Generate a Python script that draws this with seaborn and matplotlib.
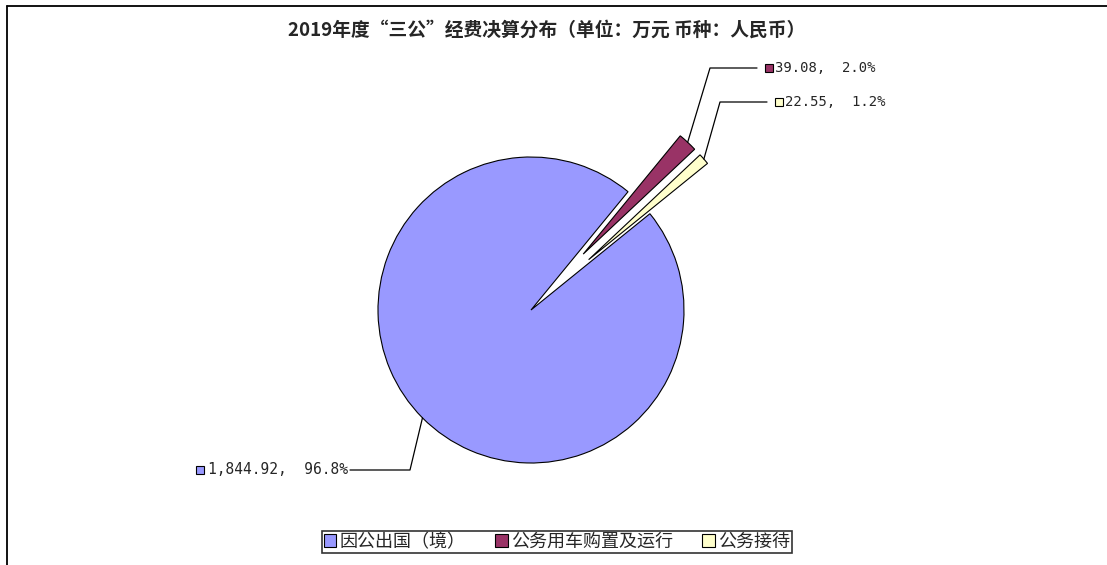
import numpy as np
import matplotlib.pyplot as plt
import matplotlib.patches as mpatches
import seaborn as sns

# data (万元)
categories = ["因公出国（境）", "公务用车购置及运行", "公务接待"]
values = [1844.92, 39.08, 22.55]
percent_labels = ["96.8%", "2.0%", "1.2%"]
value_labels = ["1,844.92", "39.08", "22.55"]
colors = ["#9999FF", "#993366", "#FFFFCC"]
title = "2019年度“三公”经费决算分布（单位：万元 币种：人民币）"

W, H = 1107, 565

sns.set_style("white")
plt.rcParams['font.family'] = ['Noto Sans CJK SC', 'DejaVu Sans']

fig = plt.figure(figsize=(W / 100, H / 100), dpi=100)
ax = fig.add_axes([0, 0, 1, 1])

center = (531, H - 310)
radius = 153
explode = [0, 0.5 * radius, 0.5 * radius]

wedges, _ = ax.pie(values, colors=colors, startangle=39, counterclock=False,
                   center=center, radius=radius, explode=explode,
                   wedgeprops=dict(edgecolor="black", linewidth=0.8))
ax.set_xlim(0, W)
ax.set_ylim(0, H)
ax.set_aspect("auto")
ax.axis("off")

# leader lines: (elbow, end of line, text side)
leaders = [
    ((410, H - 470), (350, H - 470), "left"),
    ((710, H - 68), (757, H - 68), "right"),
    ((720, H - 102), (767, H - 102), "right"),
]
for w, val, pct, col, (elbow, end, side) in zip(wedges, value_labels, percent_labels, colors, leaders):
    mid = np.deg2rad((w.theta1 + w.theta2) / 2)
    cx, cy = w.center
    ax_pt = (cx + w.r * np.cos(mid), cy + w.r * np.sin(mid))
    ax.plot([ax_pt[0], elbow[0], end[0]], [ax_pt[1], elbow[1], end[1]],
            color="black", lw=0.9)
    txt = f"{val},  {pct}"
    if side == "right":
        ax.plot(end[0] + 12, end[1], marker="s", ms=6, mfc=col, mec="black", mew=0.8)
        ax.text(end[0] + 18, end[1], txt, ha="left", va="center",
                family="DejaVu Sans Mono", fontsize=10)
    else:
        ax.text(end[0] - 2, end[1], txt, ha="right", va="center",
                family="DejaVu Sans Mono", fontsize=10.5)
        ax.plot(end[0] - 150, end[1], marker="s", ms=6, mfc=col, mec="black", mew=0.8)

ax.text(547, H - 30, title, ha="center", va="center", fontsize=13.5, fontweight="bold")

# chart border (top and left edges visible)
ax.plot([7, W], [H - 6, H - 6], color="black", lw=1.3)
ax.plot([7, 7], [H - 6, 0], color="black", lw=1.3)

handles = [mpatches.Patch(facecolor=c, edgecolor="black", linewidth=0.8) for c in colors]
leg = ax.legend(handles, categories, loc="center", bbox_to_anchor=(557 / W, 1 - 542 / H),
                ncol=3, fontsize=13, frameon=True, fancybox=False, handlelength=0.7,
                handleheight=0.7, handletextpad=0.2, columnspacing=1.6,
                borderpad=0.1, borderaxespad=0)
leg.get_frame().set_edgecolor("black")
leg.get_frame().set_linewidth(1.2)

fig.savefig("out.png", dpi=100, facecolor="white")
